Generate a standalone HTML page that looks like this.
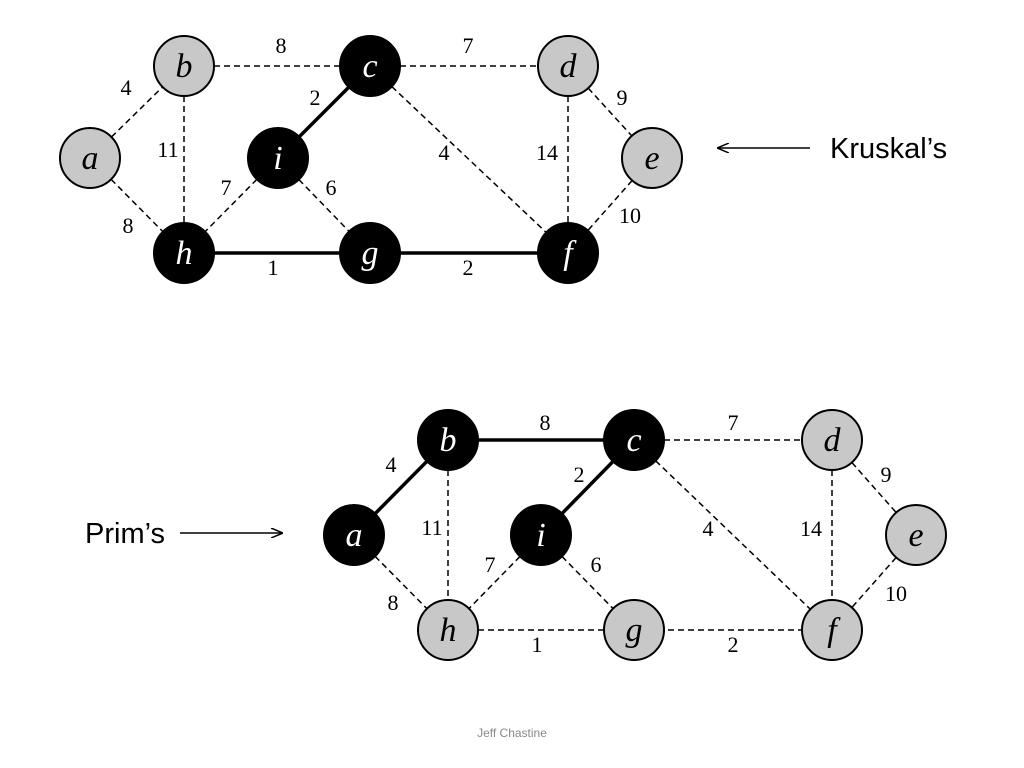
<!DOCTYPE html>
<html><head><meta charset="utf-8"><style>
body{margin:0;background:#fff;}
svg{display:block}
.n text{font-family:"Liberation Serif",serif;font-style:italic;font-size:34px;text-anchor:middle;}
.l{font-family:"Liberation Serif",serif;font-size:22px;text-anchor:middle;fill:#000}
.d{stroke:#000;stroke-width:1.5;stroke-dasharray:6,4;fill:none}
.s{stroke:#000;stroke-width:3.5;fill:none}
.g{fill:#c8c8c8;stroke:#000;stroke-width:2}
.k{fill:#000;stroke:#000;stroke-width:2}
</style></head><body>
<svg width="1024" height="768" viewBox="0 0 1024 768">
<defs><marker id="ar" markerWidth="12" markerHeight="10" refX="11" refY="5" orient="auto" markerUnits="userSpaceOnUse"><path d="M0,0 L12,5 L0,10" fill="none" stroke="#000" stroke-width="1.5"/></marker></defs>
<line class="d" x1="184" y1="66" x2="370" y2="66"/>
<line class="d" x1="370" y1="66" x2="568" y2="66"/>
<line class="d" x1="90" y1="158" x2="184" y2="66"/>
<line class="d" x1="184" y1="66" x2="184" y2="253"/>
<line class="d" x1="90" y1="158" x2="184" y2="253"/>
<line class="s" x1="278" y1="158" x2="370" y2="66"/>
<line class="d" x1="278" y1="158" x2="184" y2="253"/>
<line class="d" x1="278" y1="158" x2="370" y2="253"/>
<line class="d" x1="370" y1="66" x2="568" y2="253"/>
<line class="d" x1="568" y1="66" x2="568" y2="253"/>
<line class="d" x1="568" y1="66" x2="652" y2="158"/>
<line class="d" x1="652" y1="158" x2="568" y2="253"/>
<line class="s" x1="184" y1="253" x2="568" y2="253"/>
<g class="n">
<circle class="g" cx="184" cy="66" r="30"/><text x="184" y="77">b</text>
<circle class="k" cx="370" cy="66" r="30"/><text x="370" y="77" fill="#fff">c</text>
<circle class="g" cx="568" cy="66" r="30"/><text x="568" y="77">d</text>
<circle class="g" cx="90" cy="158" r="30"/><text x="90" y="169">a</text>
<circle class="k" cx="278" cy="158" r="30"/><text x="278" y="169" fill="#fff">i</text>
<circle class="g" cx="652" cy="158" r="30"/><text x="652" y="169">e</text>
<circle class="k" cx="184" cy="253" r="30"/><text x="184" y="264" fill="#fff">h</text>
<circle class="k" cx="370" cy="253" r="30"/><text x="370" y="264" fill="#fff">g</text>
<circle class="k" cx="568" cy="253" r="30"/><text x="568" y="264" fill="#fff">f</text>
</g>
<text class="l" x="281" y="53">8</text><text class="l" x="468" y="53">7</text>
<text class="l" x="126" y="95">4</text><text class="l" x="168" y="157">11</text>
<text class="l" x="128" y="233">8</text><text class="l" x="315" y="105">2</text>
<text class="l" x="226" y="195">7</text><text class="l" x="331" y="195">6</text>
<text class="l" x="444" y="160">4</text><text class="l" x="547" y="160">14</text>
<text class="l" x="622" y="105">9</text><text class="l" x="630" y="223">10</text>
<text class="l" x="273" y="275">1</text><text class="l" x="468" y="275">2</text>
<line x1="810" y1="148" x2="718" y2="148" stroke="#000" stroke-width="1.5" marker-end="url(#ar)"/>
<text x="830" y="158" font-family="Liberation Sans,sans-serif" font-size="29">Kruskal’s</text>
<g transform="translate(264,374)">
<line class="s" x1="184" y1="66" x2="370" y2="66"/>
<line class="d" x1="370" y1="66" x2="568" y2="66"/>
<line class="s" x1="90" y1="161" x2="184" y2="66"/>
<line class="d" x1="184" y1="66" x2="184" y2="256"/>
<line class="d" x1="90" y1="161" x2="184" y2="256"/>
<line class="s" x1="277" y1="161" x2="370" y2="66"/>
<line class="d" x1="277" y1="161" x2="184" y2="256"/>
<line class="d" x1="277" y1="161" x2="370" y2="256"/>
<line class="d" x1="370" y1="66" x2="568" y2="256"/>
<line class="d" x1="568" y1="66" x2="568" y2="256"/>
<line class="d" x1="568" y1="66" x2="652" y2="161"/>
<line class="d" x1="652" y1="161" x2="568" y2="256"/>
<line class="d" x1="184" y1="256" x2="568" y2="256"/>
<g class="n">
<circle class="k" cx="184" cy="66" r="30"/><text x="184" y="77" fill="#fff">b</text>
<circle class="k" cx="370" cy="66" r="30"/><text x="370" y="77" fill="#fff">c</text>
<circle class="g" cx="568" cy="66" r="30"/><text x="568" y="77">d</text>
<circle class="k" cx="90" cy="161" r="30"/><text x="90" y="172" fill="#fff">a</text>
<circle class="k" cx="277" cy="161" r="30"/><text x="277" y="172" fill="#fff">i</text>
<circle class="g" cx="652" cy="161" r="30"/><text x="652" y="172">e</text>
<circle class="g" cx="184" cy="256" r="30"/><text x="184" y="267">h</text>
<circle class="g" cx="370" cy="256" r="30"/><text x="370" y="267">g</text>
<circle class="g" cx="568" cy="256" r="30"/><text x="568" y="267">f</text>
</g>
<text class="l" x="281" y="56">8</text><text class="l" x="469" y="56">7</text>
<text class="l" x="127" y="98">4</text><text class="l" x="168" y="161">11</text>
<text class="l" x="129" y="236">8</text><text class="l" x="315" y="108">2</text>
<text class="l" x="226" y="198">7</text><text class="l" x="332" y="198">6</text>
<text class="l" x="444" y="162">4</text><text class="l" x="547" y="162">14</text>
<text class="l" x="622" y="108">9</text><text class="l" x="632" y="227">10</text>
<text class="l" x="273" y="278">1</text><text class="l" x="469" y="278">2</text>
</g>
<line x1="180" y1="533" x2="282" y2="533" stroke="#000" stroke-width="1.5" marker-end="url(#ar)"/>
<text x="85" y="543" font-family="Liberation Sans,sans-serif" font-size="29">Prim’s</text>
<text x="512" y="737" text-anchor="middle" font-family="Liberation Sans,sans-serif" font-size="12" fill="#888">Jeff Chastine</text>
</svg>
</body></html>
